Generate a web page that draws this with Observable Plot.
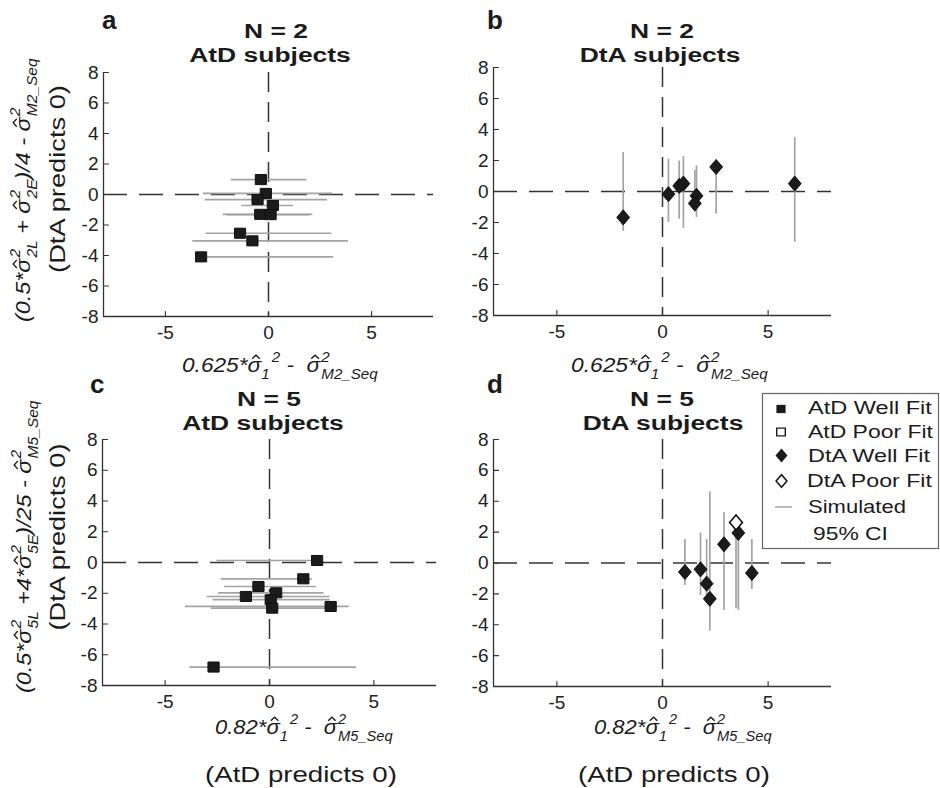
<!DOCTYPE html>
<html><head><meta charset="utf-8">
<script src="https://cdn.jsdelivr.net/npm/d3@7"></script>
<script src="https://cdn.jsdelivr.net/npm/@observablehq/plot@0.6"></script>
<style>
html,body{margin:0;padding:0;background:#fff}
#fig{position:relative;width:940px;height:788px;overflow:hidden;background:#fff}
#fig svg{position:absolute;left:0;top:0}
</style></head><body><div id="fig"></div>
<script>
// ---------------- data ----------------
const xTicks = [-5, 0, 5];
const yTicks = [-8, -6, -4, -2, 0, 2, 4, 6, 8];
const axisDomain = [-8, 8];

// Panel a: N = 2, AtD subjects (horizontal simulated 95% CI)
const aX  = [-0.37, -0.13, -0.53, 0.21, -0.40, 0.10, -1.38, -0.78, -3.27];
const aY  = [0.98, 0.07, -0.33, -0.72, -1.30, -1.32, -2.54, -3.04, -4.09];
const aLo = [-1.81, -3.16, -3.07, -1.29, -2.20, -2.00, -3.03, -3.67, -3.27];
const aHi = [1.86, 3.10, 2.86, 1.21, 2.15, 2.00, 3.07, 3.88, 3.16];

// Panel b: N = 2, DtA subjects (vertical simulated 95% CI)
const bX  = [-1.86, 0.28, 0.79, 0.99, 1.61, 1.53, 2.54, 6.26];
const bY  = [-1.67, -0.17, 0.36, 0.51, -0.28, -0.77, 1.58, 0.51];
const bLo = [-2.57, -1.99, -1.78, -2.38, -1.67, -1.35, -1.46, -3.28];
const bHi = [2.51, 2.08, 1.97, 2.25, 1.65, 1.37, 1.58, 3.47];

// Panel c: N = 5, AtD subjects
const cX  = [2.28, 1.62, -0.53, -1.13, 0.32, 0.06, 0.13, 2.93, -2.68];
const cY  = [0.13, -1.06, -1.56, -2.21, -1.97, -2.42, -2.97, -2.86, -6.80];
const cLo = [-2.52, -2.31, -2.15, -2.99, -2.44, -2.70, -2.79, -4.03, -3.82];
const cHi = [2.40, 2.05, 2.26, 2.90, 2.61, 2.90, 2.90, 3.82, 4.17];

// Panel d: N = 5, DtA subjects
const dX  = [1.06, 1.80, 2.09, 2.24, 2.91, 3.48, 3.59, 4.23];
const dY  = [-0.58, -0.41, -1.34, -2.32, 1.21, 2.62, 1.95, -0.65];
const dLo = [-1.45, -2.10, -2.20, -4.42, -3.07, -2.97, -3.07, -1.71];
const dHi = [1.52, 1.95, 1.52, 4.61, 3.25, 2.55, 2.55, 1.52];
const dFit = ["well", "well", "well", "well", "well", "poor", "well", "well"];

const legendLabels = ["AtD Well Fit", "AtD Poor Fit", "DtA Well Fit", "DtA Poor Fit", "Simulated", "95% CI"];

// ---------------- helpers ----------------
const FONT = "'Liberation Sans', Arial, Helvetica, sans-serif";
const AX = "#333";
const CI = "#a3a3a3";
const INK = "#1b1b1b";

const rows = (xs, ys, lo, hi, fit) => xs.map((x, i) => ({x, y: ys[i], lo: lo[i], hi: hi[i], fit: fit ? fit[i] : "well"}));

const squareSym = {draw(ctx, size) { const r = Math.sqrt(size / Math.PI); ctx.rect(-r, -r * 0.9, 2 * r, 1.8 * r); }};
const diamondSym = {draw(ctx, size) { const r = Math.sqrt(size / Math.PI); ctx.moveTo(0, -1.18 * r); ctx.lineTo(r, 0); ctx.lineTo(0, 1.18 * r); ctx.lineTo(-r, 0); ctx.closePath(); }};
const tickShape = {draw(ctx, l) { ctx.moveTo(0, 0); ctx.lineTo(0, -l); }};

function panel({data, orient, shape, r, frame}) {
  const [L, R, T, B] = frame;
  const ci = orient === "h"
    ? Plot.ruleY(data, {y: "y", x1: "lo", x2: "hi", stroke: CI, strokeWidth: 1.7})
    : Plot.ruleX(data, {x: "x", y1: "lo", y2: "hi", stroke: CI, strokeWidth: 1.7});
  return Plot.plot({
    width: 940, height: 788,
    marginLeft: L, marginRight: 940 - R, marginTop: T, marginBottom: 788 - B,
    x: {domain: axisDomain, label: null},
    y: {domain: axisDomain, label: null},
    style: {background: "transparent", fontFamily: FONT, fontSize: "19px", color: "#222", overflow: "visible"},
    marks: [
      Plot.ruleY([0], {stroke: AX, strokeWidth: 1.5, strokeDasharray: "24,12"}),
      Plot.ruleX([0], {stroke: AX, strokeWidth: 1.5, strokeDasharray: "20,10"}),
      ci,
      Plot.dot(data.filter(d => d.fit === "well"), {x: "x", y: "y", symbol: shape, r, fill: INK, stroke: "#111", strokeWidth: 1}),
      Plot.dot(data.filter(d => d.fit === "poor"), {x: "x", y: "y", symbol: shape, r, fill: "white", stroke: "#111", strokeWidth: 1.6}),
      Plot.ruleX([axisDomain[0]], {stroke: AX, strokeWidth: 1.3}),
      Plot.ruleY([axisDomain[0]], {stroke: AX, strokeWidth: 1.3}),
      // inward ticks
      Plot.vector(yTicks, {x: () => axisDomain[0], y: d => d, length: 5, rotate: 90, anchor: "start", shape: tickShape, stroke: AX, strokeWidth: 1.1}),
      Plot.vector(xTicks, {x: d => d, y: () => axisDomain[0], length: 5, rotate: 0, anchor: "start", shape: tickShape, stroke: AX, strokeWidth: 1.1}),
      Plot.axisX({ticks: xTicks, tickSize: 0, tickPadding: 9, tickFormat: d => String(d), fontSize: 19}),
      Plot.axisY({ticks: yTicks, tickSize: 0, tickPadding: 5, tickFormat: d => String(d), fontSize: 19})
    ]
  });
}

const fig = document.getElementById("fig");
fig.append(panel({data: rows(aX, aY, aLo, aHi), orient: "h", shape: squareSym, r: 5.6, frame: [103, 433, 72, 316]}));
fig.append(panel({data: rows(bX, bY, bLo, bHi), orient: "v", shape: diamondSym, r: 6.4, frame: [493, 831, 67, 315]}));
fig.append(panel({data: rows(cX, cY, cLo, cHi), orient: "h", shape: squareSym, r: 5.6, frame: [102, 436, 439, 685]}));
fig.append(panel({data: rows(dX, dY, dLo, dHi, dFit), orient: "v", shape: diamondSym, r: 6.4, frame: [493, 831, 439, 686]}));

// ---------------- text overlay ----------------
const ov = d3.select(fig).append("svg").attr("width", 940).attr("height", 788)
  .attr("font-family", FONT).attr("fill", INK);

function placeOf({x, y, rotate = 0}, sx) {
  return `translate(${x},${y})${rotate ? ` rotate(${rotate})` : ""} scale(${sx},1)`;
}
function label(txt, o) {
  const t = ov.append("text").attr("font-size", o.size)
    .attr("font-weight", o.bold ? "bold" : null)
    .attr("text-anchor", o.anchor || "start").text(txt);
  const w = t.node().getBBox().width;
  t.attr("transform", placeOf(o, o.width ? o.width / w : 1));
}
// two-line bold title in a single text element
function title(l1, l2, {cx, x1, x2, y, sx = 1.26}) {
  const t = ov.append("text").attr("font-size", 21).attr("font-weight", "bold")
    .attr("text-anchor", "middle")
    .attr("transform", `translate(${cx},${y}) scale(${sx},1)`);
  t.append("tspan").attr("x", (x1 - cx) / sx).attr("y", 0).text(l1);
  t.append("tspan").attr("x", (x2 - cx) / sx).attr("y", 23.6).text(l2);
}
const HAT = "HAT";
function mathLabel(parts, o) {
  const g = ov.append("g");
  const t = g.append("text").attr("font-size", o.size).attr("font-style", "italic")
    .style("white-space", "pre").attr("text-anchor", o.anchor || "start");
  const SUP = -0.5 * o.size, SUB = 0.32 * o.size;
  let cur = 0, pend = 0, n = 0;
  const sigmas = [];
  const add = (txt, size, level, dx = 0) => {
    const s = t.append("tspan");
    if (size) s.attr("font-size", size);
    s.attr("dy", level - cur).attr("dx", dx + pend).text(txt);
    cur = level; pend = 0; n += txt.length;
    return s;
  };
  for (const p of parts) {
    if (p === HAT) { sigmas.push(n); add("\u03c3", null, 0); }
    else if (typeof p === "string") add(p, null, 0);
    else if (p.stack) {
      const a = add(p.sup, o.sub, SUP, 1);
      const wa = a.node().getComputedTextLength();
      add(p.sub, o.sub, SUB, -wa);
    } else {
      add(p.sub, o.sub, SUB, 0);
      add(p.sup, o.sub, SUP, 2);
    }
  }
  const w = t.node().getBBox().width;
  g.attr("transform", placeOf(o, o.width / w));
  // circumflex accents over sigma
  for (const i of sigmas) {
    const e = t.node().getExtentOfChar(i);
    const cx = e.x + e.width / 2 + 0.07 * o.size, hw = 0.17 * o.size;
    g.append("path")
      .attr("d", `M${cx - hw},${-0.63 * o.size}L${cx},${-0.8 * o.size}L${cx + hw},${-0.63 * o.size}`)
      .attr("fill", "none").attr("stroke", INK).attr("stroke-width", 1.3);
  }
}

// panel letters and titles
label("a", {x: 102, y: 29, size: 26, bold: true});
label("b", {x: 487, y: 29, size: 26, bold: true});
label("c", {x: 90, y: 393, size: 26, bold: true});
label("d", {x: 487, y: 393, size: 26, bold: true});
title("N = 2", "AtD subjects", {cx: 272, x1: 276, x2: 270, y: 38});
title("N = 2", "DtA subjects", {cx: 661, x1: 662, x2: 660, y: 38});
title("N = 5", "AtD subjects", {cx: 266, x1: 269, x2: 263, y: 406});
title("N = 5", "DtA subjects", {cx: 662, x1: 662, x2: 663, y: 406});

// x-axis labels
const xlab2 = ["0.625*", HAT, {sub: "1", sup: "2"}, " -  ", HAT, {stack: true, sup: "2", sub: "M2_Seq"}];
const xlab5 = ["0.82*", HAT, {sub: "1", sup: "2"}, " -  ", HAT, {stack: true, sup: "2", sub: "M5_Seq"}];
mathLabel(xlab2, {x: 182, y: 372, size: 21, sub: 14, width: 196});
mathLabel(xlab2, {x: 571, y: 372, size: 21, sub: 14, width: 197});
mathLabel(xlab5, {x: 215, y: 734, size: 21, sub: 14, width: 178});
mathLabel(xlab5, {x: 594, y: 734, size: 21, sub: 14, width: 178});
label("(AtD predicts 0)", {x: 205, y: 782, size: 22, width: 192});
label("(AtD predicts 0)", {x: 578, y: 782, size: 22, width: 192});

// y-axis labels
const ylab2 = ["(0.5*", HAT, {stack: true, sup: "2", sub: "2L"}, " + ", HAT, {stack: true, sup: "2", sub: "2E"}, ")/4 - ", HAT, {stack: true, sup: "2", sub: "M2_Seq"}];
const ylab5 = ["(0.5*", HAT, {stack: true, sup: "2", sub: "5L"}, " +4*", HAT, {stack: true, sup: "2", sub: "5E"}, ")/25 - ", HAT, {stack: true, sup: "2", sub: "M5_Seq"}];
mathLabel(ylab2, {x: 30, y: 322, rotate: -90, size: 21, sub: 14, width: 264});
mathLabel(ylab5, {x: 31, y: 693, rotate: -90, size: 21, sub: 14, width: 293});
label("(DtA predicts 0)", {x: 65, y: 179, rotate: -90, size: 22, anchor: "middle", width: 188});
label("(DtA predicts 0)", {x: 65, y: 537, rotate: -90, size: 22, anchor: "middle", width: 187});

// legend
const lg = ov.append("g");
lg.append("rect").attr("x", 762.5).attr("y", 393.5).attr("width", 176).attr("height", 155)
  .attr("fill", "white").attr("stroke", "#666").attr("stroke-width", 1.2);
const sym = (type, r) => d3.symbol().type(type).size(Math.PI * r * r)();
lg.append("path").attr("d", sym(squareSym, 4.6)).attr("transform", "translate(781,409)").attr("fill", INK);
lg.append("path").attr("d", sym(squareSym, 4.3)).attr("transform", "translate(781,432)").attr("fill", "white").attr("stroke", INK).attr("stroke-width", 1.4);
lg.append("path").attr("d", sym(diamondSym, 6)).attr("transform", "translate(781.5,455.5)").attr("fill", INK);
lg.append("path").attr("d", sym(diamondSym, 5.4)).attr("transform", "translate(781.5,481)").attr("fill", "white").attr("stroke", INK).attr("stroke-width", 1.6);
lg.append("line").attr("x1", 775).attr("x2", 792).attr("y1", 507).attr("y2", 507).attr("stroke", CI).attr("stroke-width", 1.4);
const lgPos = [[808, 414, 124], [808, 438, 125], [808, 462, 122], [807, 487, 125], [808, 513, 98], [813, 540, 75]];
legendLabels.forEach((s, i) => label(s, {x: lgPos[i][0], y: lgPos[i][1], size: 18.5, width: lgPos[i][2]}));
</script></body></html>
